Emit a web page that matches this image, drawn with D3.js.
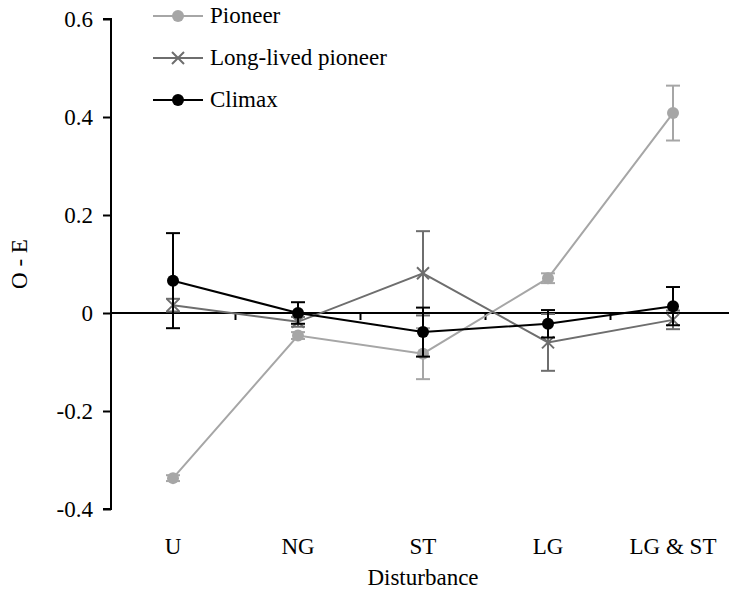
<!DOCTYPE html>
<html>
<head>
<meta charset="utf-8">
<script src="https://cdn.jsdelivr.net/npm/d3@7"></script>
<style>
  body { margin: 0; background: #fff; }
  svg text { font-family: "Liberation Serif", "Times New Roman", serif !important; fill: #000; }
</style>
</head>
<body>
<script>
// categories along the x axis
var categories = ["U", "NG", "ST", "LG", "LG & ST"];

// mean O - E per group, and error bar half-widths
var pioneer      = [-0.337, -0.046, -0.083, 0.071, 0.408];
var pioneerErr   = [0.006, 0.007, 0.052, 0.010, 0.056];
var longLived    = [0.016, -0.018, 0.081, -0.060, -0.014];
var longLivedErr = [0.013, 0.010, 0.086, 0.058, 0.019];
var climax       = [0.066, 0.000, -0.039, -0.022, 0.014];
var climaxErr    = [0.097, 0.022, 0.050, 0.028, 0.039];

var yTicks = [0.6, 0.4, 0.2, 0, -0.2, -0.4];

var series = [
    {name: "Pioneer", values: pioneer, err: pioneerErr, color: "#a6a6a6", marker: "circle"},
    {name: "Long-lived pioneer", values: longLived, err: longLivedErr, color: "#6e6e6e", marker: "cross"},
    {name: "Climax", values: climax, err: climaxErr, color: "#000000", marker: "circle"}
];

var fontSize = "23px";

window.onload = drawChart();

function drawChart(){
    var width = 729, height = 592;

    var svg = d3.select("body")
        .append("svg")
        .attr("width", width)
        .attr("height", height)
        .attr("font-family", "'Liberation Serif', serif");

    // band scale for the categories, linear for O - E
    var x = d3.scaleBand()
        .domain(categories)
        .range([110.5, 735.5]);

    var y = d3.scaleLinear()
        .domain([-0.4, 0.6])
        .range([509, 19]);

    var axisX = 111;

    //y axis, ticks on the outside, plain hyphen for negatives
    var yAxis = d3.axisLeft(y)
        .tickValues(yTicks)
        .tickSize(8)
        .tickPadding(10)
        .tickFormat(function(d){ return d === 0 ? "0" : d.toFixed(1); });

    var gy = svg.append("g")
        .attr("transform", "translate(" + axisX + ",0)")
        .call(yAxis)
        .attr("font-family", "'Liberation Serif', serif")
        .attr("font-size", fontSize);
    gy.select(".domain").attr("stroke", "#000").attr("stroke-width", 2)
        .attr("d", "M-8," + y(0.6) + "H0V" + y(-0.4) + "H-8");
    gy.selectAll(".tick line").attr("stroke", "#000").attr("stroke-width", 2);

    // zero line with the category boundary ticks
    var zero = svg.append("g").attr("class", "zero");
    zero.append("line")
        .attr("x1", axisX).attr("x2", width)
        .attr("y1", y(0)).attr("y2", y(0))
        .attr("stroke", "#000").attr("stroke-width", 2);
    zero.selectAll(".btick")
        .data(categories.slice(1))
        .enter()
        .append("line")
        .attr("class", "btick")
        .attr("x1", function(d){ return x(d); })
        .attr("x2", function(d){ return x(d); })
        .attr("y1", y(0))
        .attr("y2", y(0) + 7)
        .attr("stroke", "#000").attr("stroke-width", 2);

    // category labels
    svg.selectAll(".cat")
        .data(categories)
        .enter()
        .append("text")
        .attr("class", "cat")
        .attr("x", function(d){ return x(d) + x.bandwidth() / 2; })
        .attr("y", 554)
        .attr("text-anchor", "middle")
        .style("font-size", fontSize)
        .text(function(d){ return d; });

    // axis titles
    svg.append("text")
        .attr("x", 423)
        .attr("y", 585)
        .attr("text-anchor", "middle")
        .style("font-size", fontSize)
        .text("Disturbance");

    svg.append("text")
        .attr("transform", "translate(27," + y(0.1) + ") rotate(-90)")
        .attr("text-anchor", "middle")
        .style("font-size", fontSize)
        .text("O - E");

    var cx = function(i){ return x(categories[i]) + x.bandwidth() / 2; };

    var line = d3.line()
        .x(function(d, i){ return cx(i); })
        .y(function(d){ return y(d); });

    series.forEach(function(s){
        var g = svg.append("g").attr("class", "series");

        g.append("path")
            .datum(s.values)
            .attr("d", line)
            .attr("fill", "none")
            .attr("stroke", s.color)
            .attr("stroke-width", 2);

        // error bars
        s.values.forEach(function(v, i){
            var top = y(v + s.err[i]), bot = y(v - s.err[i]), xi = cx(i);
            g.append("line").attr("x1", xi).attr("x2", xi).attr("y1", top).attr("y2", bot)
                .attr("stroke", s.color).attr("stroke-width", 2);
            [top, bot].forEach(function(yy){
                g.append("line").attr("x1", xi - 7).attr("x2", xi + 7).attr("y1", yy).attr("y2", yy)
                    .attr("stroke", s.color).attr("stroke-width", 2);
            });
        });

        s.values.forEach(function(v, i){
            drawMarker(g, s, cx(i), y(v));
        });
    });

    // legend
    var legend = svg.append("g").attr("class", "legend");
    var rows = [16, 58, 100];
    series.forEach(function(s, i){
        var ly = rows[i];
        legend.append("line")
            .attr("x1", 153).attr("x2", 203)
            .attr("y1", ly).attr("y2", ly)
            .attr("stroke", s.color).attr("stroke-width", 2);
        drawMarker(legend, s, 178, ly);
        legend.append("text")
            .attr("x", 210)
            .attr("y", ly + 7)
            .style("font-size", fontSize)
            .text(s.name);
    });
}

function drawMarker(g, s, px, py){
    if (s.marker === "circle"){
        g.append("circle")
            .attr("cx", px).attr("cy", py).attr("r", 6)
            .attr("fill", s.color);
    } else {
        var r = 6;
        g.append("path")
            .attr("d", "M" + (px - r) + "," + (py - r) + "L" + (px + r) + "," + (py + r) +
                       "M" + (px - r) + "," + (py + r) + "L" + (px + r) + "," + (py - r))
            .attr("stroke", s.color)
            .attr("stroke-width", 2)
            .attr("fill", "none");
    }
}
</script>
</body>
</html>
